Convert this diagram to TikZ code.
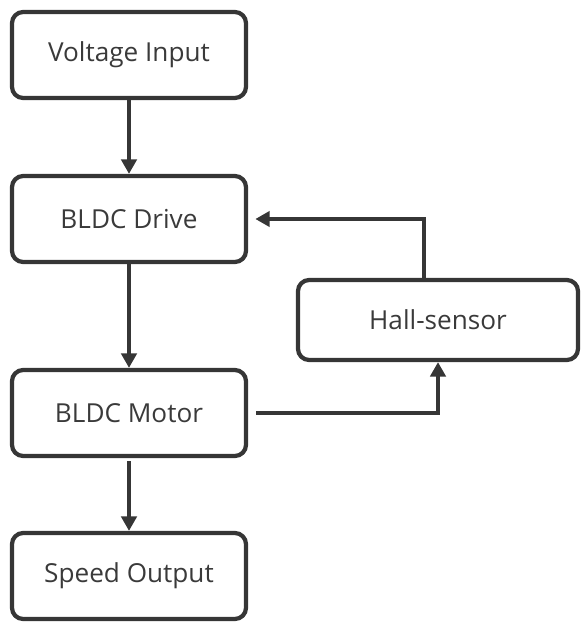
\documentclass[tikz,border=0pt]{standalone}
\usepackage{fontspec}
\setmainfont{Open Sans}
\usepackage{tikz}
\usetikzlibrary{arrows.meta}
\definecolor{boxline}{HTML}{363636}
\definecolor{labelgray}{HTML}{3A3A3A}

\begin{document}
\begin{tikzpicture}[x=0.025cm,y=-0.025cm,
  blockbox/.style={draw=boxline,line width=3pt,rounded corners=8pt,
   minimum width=5.85cm,minimum height=2.15cm,text=labelgray,
   font=\fontsize{18.6}{22}\selectfont},
  flow/.style={draw=boxline,line width=3pt,
   -{Triangle[length=3.6mm,width=3.8mm]}}]
 \useasboundingbox (0,0) rectangle (580,625);
 \node[blockbox] (vin) at (129,55) {Voltage Input};
 \node[blockbox] (drv) at (129,219) {BLDC Drive};
 \node[blockbox] (mot) at (129,413) {BLDC Motor};
 \node[blockbox] (spd) at (129,576) {Speed Output};
 \node[blockbox,minimum width=7cm,minimum height=2cm] (hal) at (438,320) {Hall-sensor};
 \draw[flow] (vin) -- (drv);
 \draw[flow] (drv) -- (mot);
 \draw[flow] ([yshift=-0.08cm]mot.south) -- (spd);
 \draw[flow] ([xshift=0.2cm]mot.east) -| (hal.south);
 \draw[flow] ([xshift=-0.35cm]hal.north) |- ([xshift=0.18cm]drv.east);
\end{tikzpicture}
\end{document}
